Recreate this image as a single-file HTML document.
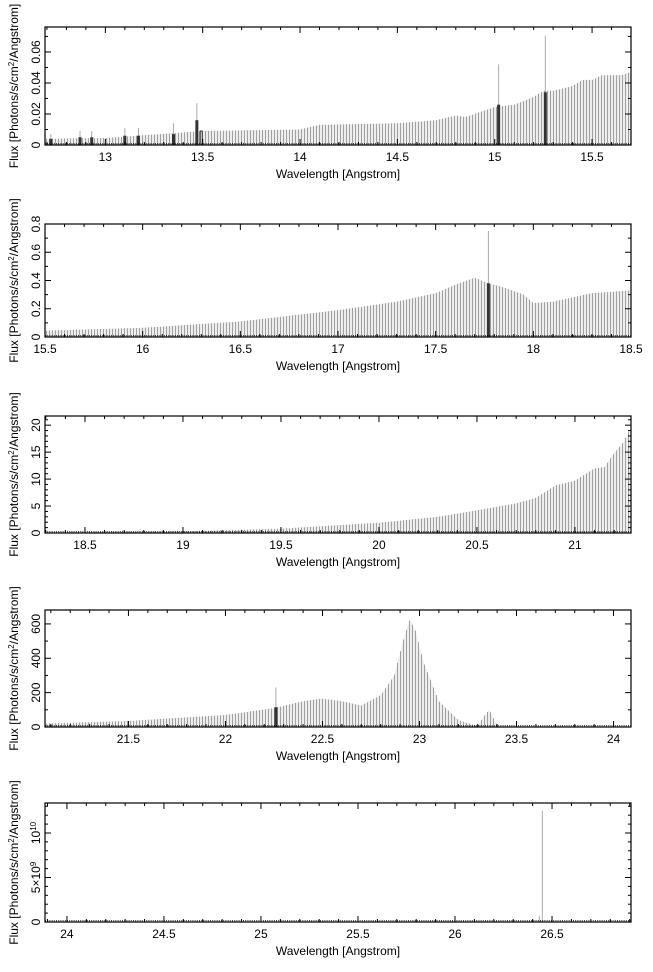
<!DOCTYPE html>
<html><head><meta charset="utf-8"><style>
html,body{margin:0;padding:0;background:#fff;}
svg{display:block;font-family:"Liberation Sans",sans-serif;}
</style></head><body>
<svg id="s" width="653" height="972" xmlns="http://www.w3.org/2000/svg"></svg>
<script>
const S=document.getElementById('s');
let out='';
const L=45,R=631;
function interp(pts,x){
  if(x<=pts[0][0])return pts[0][1];
  for(let i=1;i<pts.length;i++){if(x<=pts[i][0]){const a=pts[i-1],b=pts[i];return a[1]+(b[1]-a[1])*(x-a[0])/(b[0]-a[0]);}}
  return pts[pts.length-1][1];
}
function panel(o){
  const T=o.top,B=o.bot;
  const X=v=>L+(v-o.x0)/(o.x1-o.x0)*(R-L);
  const Y=v=>B-(v/o.ymax)*(B-T);
  let lines='';
  for(let px=L+1.5;px<R;px+=3){
    const w=o.x0+(px-L)/(R-L)*(o.x1-o.x0);
    const v=o.pts?interp(o.pts,w):0;
    const y=Y(v);
    if(v>0){lines+=`M${px},${B}V${y.toFixed(1)}`;}
  }
  if(o.pts){
    let d='M'+L+','+B;
    for(let px=L;px<=R;px+=1){const w=o.x0+(px-L)/(R-L)*(o.x1-o.x0);d+=`L${px},${Y(interp(o.pts,w)).toFixed(1)}`;}
    d+=`L${R},${B}Z`;
    out+=`<path d="${d}" fill="#eeeeee"/>`;
  }
  out+=`<path d="${lines}" stroke="#a0a0a0" stroke-width="1"/>`;
  (o.spikes||[]).forEach(s=>{out+=`<line x1="${X(s[0])}" x2="${X(s[0])}" y1="${B}" y2="${Y(s[1])}" stroke="#aaa" stroke-width="1"/>`;});
  (o.black||[]).forEach(s=>{out+=`<rect x="${X(s[0])-1.5}" y="${Y(s[1])}" width="${s[2]?2:3}" height="${B-Y(s[1])}" fill="${s[2]?'none':'#333'}" stroke="#333" stroke-width="${s[2]?1:0}"/>`;});
  out+=`<rect x="${L}" y="${T}" width="${R-L}" height="${B-T}" fill="none" stroke="#000" stroke-width="1.2"/>`;
  const st=Math.ceil(o.x0*10-1e-6);
  for(let k=st;k/10<=o.x1+1e-9;k++){
    const v=k/10,x=X(v),maj=(k%5===0),len=maj?6:3;
    out+=`<line x1="${x}" x2="${x}" y1="${B}" y2="${B-len}" stroke="#000"/><line x1="${x}" x2="${x}" y1="${T}" y2="${T+len}" stroke="#000"/>`;
    if(maj){out+=`<text x="${x}" y="${B+16}" font-size="12" text-anchor="middle">${(+v.toFixed(1)).toString()}</text>`;}
  }
  out+=`<line x1="${L}" x2="${R}" y1="${B-1.2}" y2="${B-1.2}" stroke="#000" stroke-width="1" stroke-dasharray="1,1.2"/>`;
  o.yt.forEach(t=>{const y=Y(t[0]);
    out+=`<line x1="${L}" x2="${L+6}" y1="${y}" y2="${y}" stroke="#000"/><line x1="${R}" x2="${R-6}" y1="${y}" y2="${y}" stroke="#000"/>`;
    if(t[1]!==null)out+=`<text transform="translate(${L-5},${y}) rotate(-90)" font-size="12" text-anchor="middle">${t[1]}</text>`;});
  (o.ym||[]).forEach(v=>{const y=Y(v);out+=`<line x1="${L}" x2="${L+3}" y1="${y}" y2="${y}" stroke="#000"/><line x1="${R}" x2="${R-3}" y1="${y}" y2="${y}" stroke="#000"/>`;});
  out+=`<text x="${(L+R)/2}" y="${B+33}" font-size="12" text-anchor="middle">Wavelength [Angstrom]</text>`;
  out+=`<text transform="translate(18,${(T+B)/2}) rotate(-90)" font-size="12" text-anchor="middle">Flux [Photons/s/cm<tspan font-size="8" dy="-4">2</tspan><tspan dy="4">/Angstrom]</tspan></text>`;
}
panel({top:27,bot:145,x0:12.69,x1:15.70,ymax:0.0761,
 pts:[[12.69,0.004],[13.0,0.0045],[13.5,0.009],[14.0,0.010],[14.1,0.013],[14.5,0.014],[14.7,0.016],[14.8,0.019],[14.85,0.018],[15.0,0.0245],[15.1,0.026],[15.2,0.031],[15.25,0.035],[15.3,0.035],[15.4,0.038],[15.45,0.042],[15.5,0.042],[15.55,0.045],[15.65,0.045],[15.7,0.047]],
 spikes:[[12.72,0.007],[12.87,0.009],[12.93,0.009],[13.1,0.011],[13.17,0.011],[13.35,0.014],[13.47,0.027],[15.02,0.052],[15.26,0.0705]],
 black:[[12.72,0.004],[12.87,0.005],[12.93,0.005],[13.1,0.006],[13.17,0.006],[13.35,0.007],[13.47,0.016],[13.495,0.009,1],[15.02,0.026],[15.26,0.034]],
 yt:[[0,'0'],[0.02,'0.02'],[0.04,'0.04'],[0.06,'0.06']],ym:[0.01,0.03,0.05,0.07]});
panel({top:224,bot:337,x0:15.5,x1:18.5,ymax:0.8,
 pts:[[15.5,0.045],[16,0.065],[16.5,0.11],[17,0.19],[17.3,0.25],[17.5,0.31],[17.6,0.37],[17.7,0.42],[17.77,0.38],[17.85,0.35],[17.95,0.30],[18.0,0.24],[18.1,0.25],[18.2,0.28],[18.3,0.31],[18.5,0.33]],
 spikes:[[17.77,0.75]],black:[[17.77,0.38]],
 yt:[[0,'0'],[0.2,'0.2'],[0.4,'0.4'],[0.6,'0.6'],[0.8,'0.8']],ym:[0.1,0.3,0.5,0.7]});
panel({top:416,bot:533,x0:18.296,x1:21.286,ymax:21.7,
 pts:[[18.3,0.1],[19,0.3],[19.5,0.8],[20,1.9],[20.3,3.0],[20.5,4.2],[20.7,5.5],[20.8,6.5],[20.9,8.8],[21.0,9.7],[21.1,12.0],[21.15,12.2],[21.2,14.8],[21.25,17],[21.286,19.8]],
 yt:[[0,'0'],[5,'5'],[10,'10'],[15,'15'],[20,'20']],ym:[1,2,3,4,6,7,8,9,11,12,13,14,16,17,18,19,21]});
panel({top:610,bot:727,x0:21.07,x1:24.09,ymax:681,
 pts:[[21.07,20],[21.5,35],[22,70],[22.25,110],[22.4,150],[22.5,165],[22.6,150],[22.7,125],[22.8,185],[22.87,300],[22.92,520],[22.95,625],[22.98,560],[23.02,380],[23.1,150],[23.2,40],[23.3,5],[23.33,60],[23.36,100],[23.39,30],[23.41,0],[24.09,0]],
 spikes:[[22.26,230]],black:[[22.26,115]],
 yt:[[0,'0'],[200,'200'],[400,'400'],[600,'600']],ym:[100,300,500]});
panel({top:803,bot:922,x0:23.887,x1:26.907,ymax:1.337e10,
 spikes:[[26.45,1.25e10],[26.435,0.07e10]],
 yt:[[0,'0'],[5e9,'5×10<tspan font-size="8" dy="-4">9</tspan>'],[1e10,'10<tspan font-size="8" dy="-4">10</tspan>']],ym:[1e9,2e9,3e9,4e9,6e9,7e9,8e9,9e9,1.1e10,1.2e10,1.3e10]});
S.innerHTML=out;
</script>
</body></html>
